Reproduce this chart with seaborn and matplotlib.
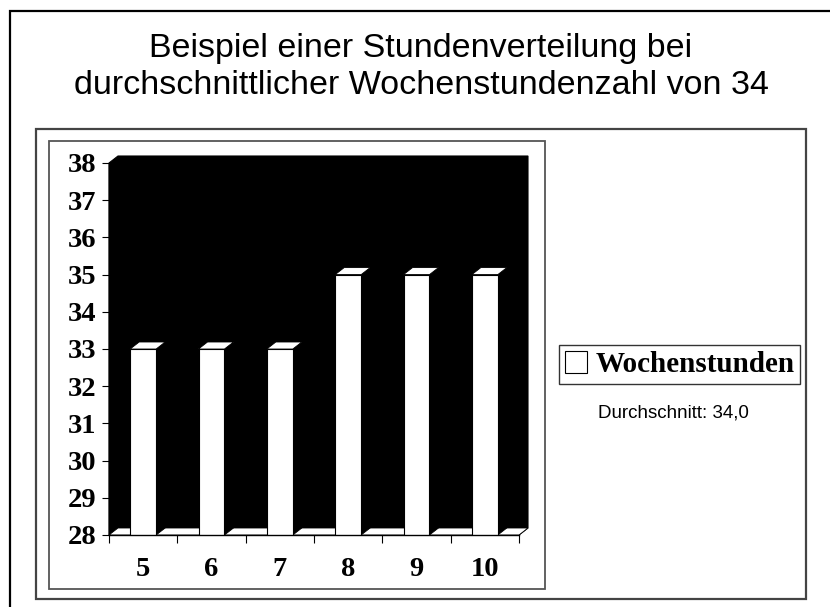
import matplotlib
matplotlib.use("Agg")
import matplotlib.pyplot as plt
import seaborn as sns
import numpy as np
import pandas as pd
from matplotlib.patches import Rectangle, Polygon, Patch

# data
klassen = ["5", "6", "7", "8", "9", "10"]
wochenstunden = [33, 33, 33, 35, 35, 35]
durchschnitt = 34.0
y_min, y_max = 28, 38

titel_zeilen = ["Beispiel einer Stundenverteilung bei",
                "durchschnittlicher Wochenstundenzahl von 34"]

sns.set_style("white")
plt.rcParams['font.family'] = ['Liberation Sans', 'DejaVu Sans']
plt.rcParams['text.color'] = "black"
plt.rcParams['xtick.color'] = "black"
plt.rcParams['ytick.color'] = "black"

W, H = 830, 607
fig = plt.figure(figsize=(W / 100, H / 100), dpi=100)


def px_rect(x0, y0, x1, y1, **kw):
    # rectangle given in figure pixels (top-left origin)
    r = Rectangle((x0 / W, 1 - y1 / H), (x1 - x0) / W, (y1 - y0) / H,
                  transform=fig.transFigure, fill=False, **kw)
    fig.add_artist(r)


# frames
px_rect(10, 11, 840, 620, edgecolor="black", linewidth=1.6)
px_rect(36, 129, 806, 599, edgecolor="#444444", linewidth=1.6)
px_rect(49, 141, 545, 589, edgecolor="#555555", linewidth=1.3)

for zeile, y in zip(titel_zeilen, [48, 86]):
    fig.text(421 / W, 1 - y / H, zeile, ha="center", va="center",
             fontsize=24.5, color="black", family=['Liberation Sans'])

# plot area (front plane)
ax_l, ax_r, ax_t, ax_b = 109, 519, 163, 535
ax = fig.add_axes([ax_l / W, 1 - ax_b / H, (ax_r - ax_l) / W, (ax_b - ax_t) / H])
ax.set_facecolor("none")

df = pd.DataFrame({"Klasse": klassen, "Wochenstunden": wochenstunden})
sns.barplot(data=df, x="Klasse", y="Wochenstunden", color="white",
            edgecolor="black", linewidth=0.8, width=0.38, saturation=1,
            ax=ax, zorder=2)

n = len(klassen)
ax.set_xlim(-0.5, n - 0.5)
ax.set_ylim(y_min, y_max)

# depth offset of the 3D look, in data units
dx = 9 * n / (ax_r - ax_l)
dy = 7 * (y_max - y_min) / (ax_b - ax_t)

x0, x1 = -0.5, n - 0.5
wall = Polygon([(x0, y_min), (x0, y_max), (x0 + dx, y_max + dy),
                (x1 + dx, y_max + dy), (x1 + dx, y_min + dy), (x1, y_min)],
               closed=True, facecolor="black", edgecolor="black",
               linewidth=0.8, clip_on=False, zorder=0.5)
ax.add_patch(wall)
floor = Polygon([(x0, y_min), (x1, y_min), (x1 + dx, y_min + dy),
                 (x0 + dx, y_min + dy)],
                closed=True, facecolor="white", edgecolor="black",
                linewidth=0.6, clip_on=False, zorder=0.8)
ax.add_patch(floor)

for bar in list(ax.patches):
    if bar in (wall, floor):
        continue
    bx0 = bar.get_x()
    bx1 = bx0 + bar.get_width()
    h = bar.get_height()
    side = Polygon([(bx1, y_min), (bx1, h), (bx1 + dx, h + dy), (bx1 + dx, y_min + dy)],
                   closed=True, facecolor="black", edgecolor="black",
                   linewidth=0.6, clip_on=False, zorder=1.5)
    top = Polygon([(bx0, h), (bx1, h), (bx1 + dx, h + dy), (bx0 + dx, h + dy)],
                  closed=True, facecolor="white", edgecolor="black",
                  linewidth=0.6, clip_on=False, zorder=2.5)
    ax.add_patch(side)
    ax.add_patch(top)

sns.despine(ax=ax, top=True, right=True)
for s in ("left", "bottom"):
    ax.spines[s].set_color("black")
    ax.spines[s].set_linewidth(1.0)
    ax.spines[s].set_zorder(3)

ax.set_yticks(np.arange(y_min, y_max + 1, 1))
ax.set_xticks(np.arange(-0.5, n, 1.0), minor=True)
ax.tick_params(axis="x", which="major", length=0, pad=16)
ax.tick_params(axis="x", which="minor", length=6, width=0.8, color="black",
               direction="out", bottom=True)
ax.tick_params(axis="y", length=5, width=0.8, color="black", direction="out",
               pad=4, left=True)
for lab in ax.get_xticklabels() + ax.get_yticklabels():
    lab.set_family(['Liberation Serif'])
    lab.set_fontweight("bold")
    lab.set_fontsize(20.5)
    lab.set_color("black")
ax.set_xlabel("")
ax.set_ylabel("")

# legend
handle = Patch(facecolor="white", edgecolor="black", linewidth=0.8)
leg = fig.legend([handle], ["Wochenstunden"], loc="center",
                 bbox_to_anchor=(679.5 / W, 1 - 364.5 / H),
                 prop={"family": "Liberation Serif", "weight": "bold", "size": 21},
                 frameon=True, fancybox=False, edgecolor="black",
                 handlelength=0.75, handleheight=0.75, handletextpad=0.3,
                 borderpad=0.2, borderaxespad=0)
leg.get_frame().set_linewidth(1.0)
for t in leg.get_texts():
    t.set_color("black")

fig.text(673 / W, 1 - 413 / H, "Durchschnitt: " + f"{durchschnitt:.1f}".replace(".", ","),
         ha="center", va="center", fontsize=13.5, color="black",
         family=['Liberation Sans'])

fig.savefig("out.png", dpi=100)
